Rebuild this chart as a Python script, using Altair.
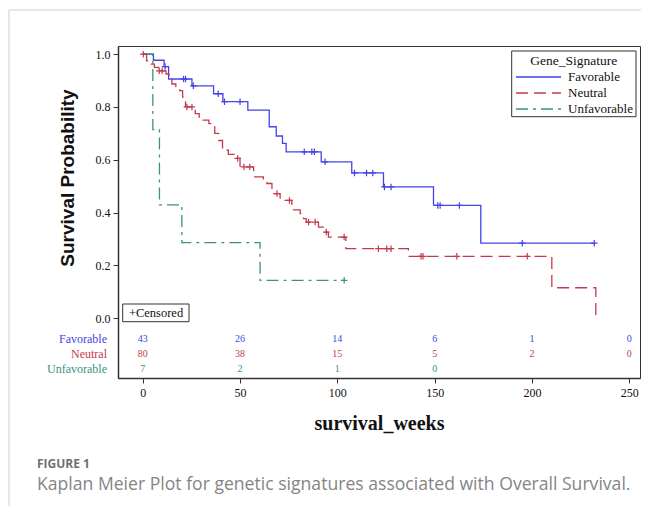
import altair as alt
import pandas as pd

groups = ["Favorable", "Neutral", "Unfavorable"]
colors = ["#4343e8", "#c43a4c", "#38937f"]
dashes = [[1, 0], [12, 6], [12, 5, 3, 5]]

fav_time = [0, 5.5, 11, 13.3, 25.3, 36.4, 41.2, 54, 65, 68.6, 71.8, 73.7, 91.7, 107.4, 123.7, 149.4, 173.7, 232]
fav_surv = [1.0, 0.977, 0.953, 0.906, 0.88, 0.85, 0.82, 0.788, 0.725, 0.69, 0.662, 0.63, 0.592, 0.55, 0.497, 0.427, 0.284, 0.284]
fav_cens_time = [11.5, 21, 22, 26, 38.8, 42, 50, 83, 86.9, 88.2, 93.7, 108.8, 115, 118.2, 124.2, 127.6, 151.6, 152.8, 162.7, 195, 232]
fav_cens_surv = [0.953, 0.906, 0.906, 0.88, 0.85, 0.82, 0.82, 0.63, 0.63, 0.63, 0.592, 0.55, 0.55, 0.55, 0.497, 0.497, 0.427, 0.427, 0.427, 0.284, 0.284]

neu_time = [0, 2, 4, 6, 8, 12, 13.5, 15, 17, 19, 20.5, 22, 27, 29, 31, 34, 37, 39, 41, 44, 47, 50, 57, 62, 63.8,
            66.4, 70.6, 76.6, 77.5, 80.9, 82.6, 84, 90.3, 92.9, 95.4, 104.4, 136.5, 210.2, 232.8]
neu_surv = [1.0, 0.975, 0.962, 0.95, 0.937, 0.925, 0.912, 0.887, 0.875, 0.862, 0.837, 0.80, 0.775, 0.762, 0.75,
            0.737, 0.70, 0.673, 0.636, 0.62, 0.605, 0.573, 0.535, 0.522, 0.51, 0.472, 0.446, 0.428, 0.41, 0.396,
            0.377, 0.364, 0.345, 0.326, 0.307, 0.263, 0.234, 0.115, 0.0]
neu_cens_time = [0.3, 8.5, 10, 22.7, 25.3, 48.8, 52, 55, 69, 75.4, 85.2, 88.6, 94.3, 103.5, 121.1, 125.4, 127.6, 143, 144, 161.4, 197.6]
neu_cens_surv = [1.0, 0.937, 0.937, 0.80, 0.80, 0.605, 0.573, 0.573, 0.472, 0.446, 0.364, 0.364, 0.326, 0.307, 0.263, 0.263, 0.263, 0.234, 0.234, 0.234, 0.234]

unf_time = [0, 5.2, 8.6, 20.1, 60.3, 103.5]
unf_surv = [1.0, 0.714, 0.429, 0.286, 0.143, 0.143]
unf_cens_time = [103.5]
unf_cens_surv = [0.143]

risk_times = [0, 50, 100, 150, 200, 250]
fav_risk = [43, 26, 14, 6, 1, 0]
neu_risk = [80, 38, 15, 5, 2, 0]
unf_risk = [7, 2, 1, 0]

y_ticks = [0.0, 0.2, 0.4, 0.6, 0.8, 1.0]
x_ticks = [0, 50, 100, 150, 200, 250]

SERIF = "Liberation Serif"

# ---- tables ----
curves = pd.concat([
    pd.DataFrame({"group": "Favorable", "t": fav_time, "s": fav_surv}),
    pd.DataFrame({"group": "Neutral", "t": neu_time, "s": neu_surv}),
    pd.DataFrame({"group": "Unfavorable", "t": unf_time, "s": unf_surv}),
])
cens = pd.concat([
    pd.DataFrame({"group": "Favorable", "t": fav_cens_time, "s": fav_cens_surv}),
    pd.DataFrame({"group": "Neutral", "t": neu_cens_time, "s": neu_cens_surv}),
    pd.DataFrame({"group": "Unfavorable", "t": unf_cens_time, "s": unf_cens_surv}),
])
risk = pd.concat([
    pd.DataFrame({"group": "Favorable", "t": risk_times[:len(fav_risk)], "n": fav_risk}),
    pd.DataFrame({"group": "Neutral", "t": risk_times[:len(neu_risk)], "n": neu_risk}),
    pd.DataFrame({"group": "Unfavorable", "t": risk_times[:len(unf_risk)], "n": unf_risk}),
])
rowlab = pd.DataFrame({"group": groups})

color_scale = alt.Scale(domain=groups, range=colors)
dash_scale = alt.Scale(domain=groups, range=dashes)

x_scale = alt.Scale(domain=[-12.7, 255.5], nice=False, zero=False)
y_scale = alt.Scale(domain=[-0.227, 1.031], nice=False, zero=False)

x_axis = alt.Axis(values=x_ticks, title="survival_weeks", titleFont=SERIF, titleFontSize=20,
                  titleFontWeight="bold", titleColor="#111", titlePadding=15,
                  labelFont=SERIF, labelFontSize=12, labelColor="#111", labelPadding=4,
                  tickSize=5, tickColor="#333", domainColor="#333", domainWidth=1.5, grid=False)
y_axis = alt.Axis(values=y_ticks, format=".1f", title=None,
                  labelFont=SERIF, labelFontSize=12, labelColor="#111", labelPadding=3,
                  tickSize=5, tickColor="#333", domainColor="#333", domainWidth=1.5, grid=False)

lines = alt.Chart(curves).mark_line(interpolate="step-after", strokeWidth=1.3).encode(
    x=alt.X("t:Q", scale=x_scale, axis=x_axis),
    y=alt.Y("s:Q", scale=y_scale, axis=y_axis),
    color=alt.Color("group:N", scale=color_scale, legend=None),
    strokeDash=alt.StrokeDash("group:N", scale=dash_scale, legend=None),
    detail="group:N",
)

marks = alt.Chart(cens).mark_point(shape="M-1,0L1,0M0,-1L0,1", filled=False, size=42, strokeWidth=1.2, opacity=1).encode(
    x=alt.X("t:Q", scale=x_scale),
    y=alt.Y("s:Q", scale=y_scale),
    color=alt.Color("group:N", scale=color_scale, legend=None),
)

one = pd.DataFrame({"k": [0]})

# y-axis title
ytitle = alt.Chart(pd.DataFrame({"label": ["Survival Probability"]})).mark_text(
    angle=270, font="Liberation Sans", fontSize=19, fontWeight="bold", color="#111", align="center", baseline="middle"
).encode(x=alt.value(-50), y=alt.value(132), text="label:N")

# Censored box
cbox = alt.Chart(one).mark_rect(fill="white", stroke="#333", strokeWidth=1).encode(
    x=alt.value(4.7), x2=alt.value(71), y=alt.value(258), y2=alt.value(275.7))
ctext = alt.Chart(pd.DataFrame({"label": ["+Censored"]})).mark_text(
    font=SERIF, fontSize=12.5, color="#111", align="center", baseline="middle"
).encode(x=alt.value(38), y=alt.value(267), text="label:N")

# Legend (manual)
lbox = alt.Chart(one).mark_rect(fill="white", stroke="#333", strokeWidth=1).encode(
    x=alt.value(393.7), x2=alt.value(518), y=alt.value(5), y2=alt.value(70.7))
ltitle = alt.Chart(pd.DataFrame({"label": ["Gene_Signature"]})).mark_text(
    font=SERIF, fontSize=13.5, color="#111", align="center", baseline="middle"
).encode(x=alt.value(455.8), y=alt.value(15), text="label:N")
legend_layers = [lbox, ltitle]
for i, g in enumerate(groups):
    yy = 31 + 16 * i
    legend_layers.append(
        alt.Chart(one).mark_rule(strokeWidth=1.4, color=colors[i], strokeDash=dashes[i]).encode(
            x=alt.value(398), x2=alt.value(443), y=alt.value(yy))
    )
    legend_layers.append(
        alt.Chart(pd.DataFrame({"label": [g]})).mark_text(
            font=SERIF, fontSize=13, color="#111", align="left", baseline="middle"
        ).encode(x=alt.value(450), y=alt.value(yy), text="label:N")
    )

# Page decorations: frame lines and caption
frame_top = alt.Chart(one).mark_rule(color="#d0d0d0", strokeWidth=1).encode(
    x=alt.value(-109), x2=alt.value(531), y=alt.value(-36))
frame_left = alt.Chart(one).mark_rule(color="#d0d0d0", strokeWidth=1).encode(
    x=alt.value(-109), y=alt.value(-36), y2=alt.value(470))
fig_lab = alt.Chart(pd.DataFrame({"label": ["FIGURE 1"]})).mark_text(
    font="Open Sans", fontSize=12, fontWeight="bold", color="#707070", align="left", baseline="middle"
).encode(x=alt.value(-81), y=alt.value(418), text="label:N")
caption = alt.Chart(pd.DataFrame({"label": ["Kaplan Meier Plot for genetic signatures associated with Overall Survival."]})).mark_text(
    font="Open Sans", fontSize=17.6, color="#858585", align="left", baseline="middle"
).encode(x=alt.value(-81), y=alt.value(439), text="label:N")

main = alt.layer(lines, marks, ytitle, cbox, ctext, *legend_layers, frame_top, frame_left, fig_lab, caption)

row_y = alt.Y("group:N", scale=alt.Scale(domain=groups, range=[293, 323.3], padding=0), axis=None)
risk_txt = alt.Chart(risk).mark_text(font=SERIF, fontSize=10, align="center", baseline="middle").encode(
    x=alt.X("t:Q", scale=x_scale),
    y=row_y,
    color=alt.Color("group:N", scale=color_scale, legend=None),
    text="n:Q",
)
risk_lab = alt.Chart(rowlab).mark_text(font=SERIF, fontSize=12, align="right", baseline="middle").encode(
    x=alt.value(-11),
    y=row_y,
    color=alt.Color("group:N", scale=color_scale, legend=None),
    text="group:N",
)
risk_layer = alt.layer(risk_txt, risk_lab)

chart = alt.layer(main, risk_layer).resolve_scale(y="independent").properties(
    width=522, height=332,
    padding={"left": 110, "top": 38, "right": 1, "bottom": 128},
    autosize=alt.AutoSizeParams(type="none"),
    background="white",
).configure_view(stroke="#333", strokeWidth=1)

chart.save("out.html", embed_options={"renderer": "svg", "actions": False})
